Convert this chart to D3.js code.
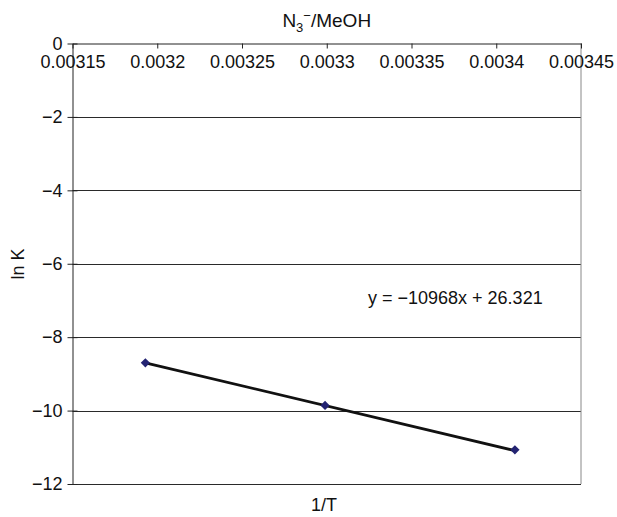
<!DOCTYPE html>
<html>
<head>
<meta charset="utf-8">
<script src="https://cdn.jsdelivr.net/npm/d3@7"></script>
<style>
  html, body { margin: 0; padding: 0; background: #fff; }
  svg { display: block; font-family: "Liberation Sans", Arial, sans-serif; }
</style>
</head>
<body>
<svg id="chart" width="617" height="517"></svg>
<script>
// Data
const invT = [0.003193, 0.003299, 0.003411];
const lnK = [-8.70, -9.86, -11.07];
const xTicks = [0.00315, 0.0032, 0.00325, 0.0033, 0.00335, 0.0034, 0.00345];
const xTickLabels = ["0.00315", "0.0032", "0.00325", "0.0033", "0.00335", "0.0034", "0.00345"];
const yTicks = [0, -2, -4, -6, -8, -10, -12];
const yTickLabels = ["0", "\u22122", "\u22124", "\u22126", "\u22128", "\u221210", "\u221212"];
const slope = -10968, intercept = 26.321;
const equationText = "y = \u221210968x + 26.321";

const svg = d3.select("#chart");
const margin = { left: 72.5, right: 581, top: 43.5, bottom: 484 };
const FS = 18;

const x = d3.scaleLinear().domain([0.00315, 0.00345]).range([margin.left, margin.right]);
const y = d3.scaleLinear().domain([0, -12]).range([margin.top, margin.bottom]);

// Gridlines
svg.append("g").selectAll("line").data(yTicks.slice(1)).join("line")
  .attr("x1", margin.left).attr("x2", margin.right)
  .attr("y1", d => Math.round(y(d)) + 0.5).attr("y2", d => Math.round(y(d)) + 0.5)
  .attr("stroke", "#2a2a2a").attr("stroke-width", 1);

// Right border
svg.append("line")
  .attr("x1", margin.right).attr("x2", margin.right)
  .attr("y1", margin.top).attr("y2", margin.bottom)
  .attr("stroke", "#888").attr("stroke-width", 1);

// Y axis
const yAxis = d3.axisLeft(y).tickValues(yTicks).tickFormat((d, i) => yTickLabels[i])
  .tickSizeInner(5).tickSizeOuter(0).tickPadding(5);
const gy = svg.append("g").attr("transform", `translate(${margin.left},0)`).call(yAxis);
gy.select(".domain").attr("stroke", "#222");
gy.selectAll(".tick line").attr("x2", 5).attr("x1", -5).attr("stroke", "#222");
gy.selectAll(".tick text").attr("font-size", FS).attr("fill", "#111")
  .attr("font-family", "'Liberation Sans', Arial, sans-serif");

// X axis (at y = 0, top)
const xAxis = d3.axisBottom(x).tickValues(xTicks).tickFormat((d, i) => xTickLabels[i])
  .tickSizeInner(5).tickSizeOuter(0).tickPadding(7);
const gx = svg.append("g").attr("transform", `translate(0,${y(0)})`).call(xAxis);
gx.select(".domain").attr("stroke", "#222");
gx.selectAll(".tick line").attr("stroke", "#222");
gx.selectAll(".tick text").attr("font-size", FS).attr("fill", "#111")
  .attr("font-family", "'Liberation Sans', Arial, sans-serif");

// Trendline
const xMin = d3.min(invT), xMax = d3.max(invT);
svg.append("line")
  .attr("x1", x(xMin)).attr("y1", y(slope * xMin + intercept))
  .attr("x2", x(xMax)).attr("y2", y(slope * xMax + intercept))
  .attr("stroke", "#111").attr("stroke-width", 2.8);

// Markers
svg.append("g").selectAll("path").data(invT.map((d, i) => [d, lnK[i]])).join("path")
  .attr("d", d3.symbol().type(d3.symbolDiamond2).size(55))
  .attr("transform", d => `translate(${x(d[0])},${y(d[1])})`)
  .attr("fill", "#232372");

// Equation
svg.append("text").attr("x", 368).attr("y", 304)
  .attr("font-size", FS).attr("fill", "#111").text(equationText);

// Title
const title = svg.append("text").attr("x", (margin.left + margin.right) / 2).attr("y", 27)
  .attr("text-anchor", "middle").attr("font-size", 19).attr("fill", "#111");
title.append("tspan").text("N");
title.append("tspan").attr("font-size", 13).attr("dy", 5).text("3");
title.append("tspan").attr("font-size", 13).attr("dy", -12).text("\u2212");
title.append("tspan").attr("dy", 7).text("/MeOH");

// Axis titles
svg.append("text").attr("transform", "translate(24,264) rotate(-90)")
  .attr("text-anchor", "middle").attr("font-size", FS).attr("fill", "#111").text("ln K");
svg.append("text").attr("x", 324).attr("y", 511)
  .attr("text-anchor", "middle").attr("font-size", FS).attr("fill", "#111").text("1/T");
</script>
</body>
</html>
